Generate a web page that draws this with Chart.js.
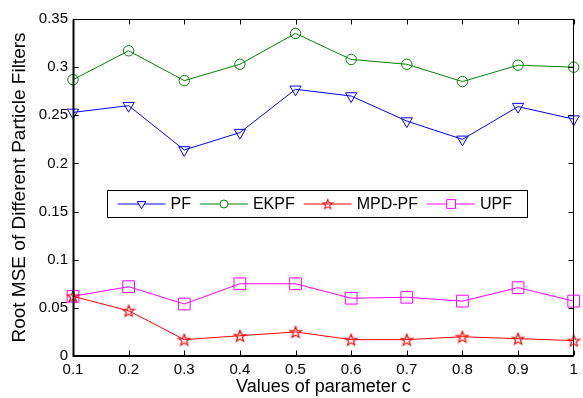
<!DOCTYPE html>
<html lang=en>
<head>
<meta charset="UTF-8" />
<title>Root MSE of Different Particle Filters</title>
<script src="https://cdn.jsdelivr.net/npm/chart.js@4.4.0/dist/chart.umd.min.js"></script>
<style>
    html, body { margin: 0; padding: 0; background: white; }
    #wrap { width: 583px; height: 398px; }
</style>
</head>
<body>
<div id="wrap"><canvas id="myChart"></canvas></div>
<script>
// data
var cValues = [0.1, 0.2, 0.3, 0.4, 0.5, 0.6, 0.7, 0.8, 0.9, 1];
var pf    = [0.253, 0.260, 0.214, 0.232, 0.277, 0.270, 0.244, 0.225, 0.259, 0.246];
var ekpf  = [0.287, 0.317, 0.286, 0.303, 0.335, 0.308, 0.303, 0.285, 0.302, 0.300];
var mpdpf = [0.062, 0.047, 0.017, 0.021, 0.025, 0.017, 0.017, 0.020, 0.018, 0.016];
var upf   = [0.062, 0.072, 0.054, 0.075, 0.075, 0.060, 0.061, 0.057, 0.071, 0.057];
var xTicks = [0.1, 0.2, 0.3, 0.4, 0.5, 0.6, 0.7, 0.8, 0.9, 1];
var yTicks = [0, 0.05, 0.1, 0.15, 0.2, 0.25, 0.3, 0.35];

var FONT = "'Liberation Sans', Arial, sans-serif";

// hollow pentagram, like matlab 'p' marker
function starMarker(color, size) {
    var c = document.createElement('canvas');
    c.width = c.height = size;
    var g = c.getContext('2d');
    var cx = size / 2, cy = size / 2 + 0.6, ro = size / 2 - 1, ri = ro * 0.42;
    g.beginPath();
    for (var i = 0; i < 10; i++) {
        var r = i % 2 ? ri : ro;
        var a = -Math.PI / 2 + i * Math.PI / 5;
        g.lineTo(cx + r * Math.cos(a), cy + r * Math.sin(a));
    }
    g.closePath();
    g.strokeStyle = color;
    g.lineWidth = 1.2;
    g.stroke();
    return c;
}

function pts(ys) {
    return cValues.map(function (x, i) { return { x: x, y: ys[i] }; });
}

// matlab style labels: 0.3 not 0.30, 1 not 1.0
function fmt(v) {
    return String(Number(v.toFixed(3)));
}

function series(label, ys, color, style, radius, rotation) {
    return {
        label: label,
        data: pts(ys),
        borderColor: color,
        backgroundColor: 'rgba(0,0,0,0)',
        borderWidth: 1,
        pointStyle: style,
        pointRadius: radius,
        pointRotation: rotation || 0,
        pointBorderColor: color,
        pointBackgroundColor: 'rgba(0,0,0,0)',
        pointBorderWidth: 1,
        tension: 0,
        clip: false
    };
}

var datasets = [
    series('PF', pf, '#0000ff', 'triangle', 6.5, 180),
    series('EKPF', ekpf, '#008000', 'circle', 5.2),
    series('MPD-PF', mpdpf, '#ff0000', starMarker('#ff0000', 14), 6),
    series('UPF', upf, '#ff00ff', 'rect', 8.3)
];
var legendSizes = [4.8, 4, 0, 6.2];

// box, inward ticks and the legend box
var framePlugin = {
    id: 'frame',
    afterDatasetsDraw: function (chart) {
        var ctx = chart.ctx, a = chart.chartArea;
        var xs = chart.scales.x, ys = chart.scales.y;
        var L = Math.round(a.left) + 0.5, R = Math.round(a.right) - 0.5;
        var T = Math.round(a.top) + 0.5, B = Math.round(a.bottom) - 0.5;
        ctx.save();
        ctx.strokeStyle = '#000';
        ctx.lineWidth = 1;
        ctx.strokeRect(L, T, R - L, B - T);
        ctx.lineWidth = 2;
        ctx.beginPath();
        ctx.moveTo(L, T); ctx.lineTo(L, B + 0.5); ctx.lineTo(R, B + 0.5);
        ctx.stroke();
        ctx.lineWidth = 1;
        ctx.beginPath();
        xTicks.forEach(function (v) {
            var px = Math.round(xs.getPixelForValue(v)) + 0.5;
            ctx.moveTo(px, B); ctx.lineTo(px, B - 5);
            ctx.moveTo(px, T); ctx.lineTo(px, T + 5);
        });
        yTicks.forEach(function (v) {
            var py = Math.round(ys.getPixelForValue(v)) + 0.5;
            ctx.moveTo(L, py); ctx.lineTo(L + 5, py);
            ctx.moveTo(R, py); ctx.lineTo(R - 5, py);
        });
        ctx.stroke();

        // legend
        var bx = Math.round(a.left) + 34.5, by = Math.round(a.top) + 171.5;
        ctx.fillStyle = '#fff';
        ctx.fillRect(bx, by, 420, 27);
        ctx.strokeRect(bx, by, 420, 27);
        ctx.font = '16px ' + FONT;
        ctx.textBaseline = 'middle';
        var x = bx + 10, my = by + 13.5;
        chart.data.datasets.forEach(function (ds, i) {
            ctx.strokeStyle = ds.borderColor;
            ctx.lineWidth = 1;
            ctx.beginPath();
            ctx.moveTo(x, my); ctx.lineTo(x + 48, my);
            ctx.stroke();
            if (typeof ds.pointStyle === 'string') {
                ctx.fillStyle = '#fff';
                Chart.helpers.drawPoint(ctx, {
                    pointStyle: ds.pointStyle, rotation: ds.pointRotation,
                    radius: legendSizes[i], borderWidth: 1
                }, x + 24, my);
            } else {
                ctx.drawImage(ds.pointStyle, x + 24 - 6, my - 6, 12, 12);
            }
            ctx.fillStyle = '#000';
            ctx.fillText(ds.label, x + 53, my + 1);
            x += 53 + ctx.measureText(ds.label).width + 9;
        });
        ctx.restore();
    }
};

var chart = new Chart(document.getElementById('myChart'), {
    type: 'line',
    data: { datasets: datasets },
    options: {
        responsive: true,
        maintainAspectRatio: false,
        animation: false,
        events: [],
        layout: { padding: { left: 0, right: 3, top: 19, bottom: 0 } },
        plugins: { legend: { display: false }, tooltip: { enabled: false } },
        scales: {
            x: {
                type: 'linear', min: 0.1, max: 1,
                afterBuildTicks: function (s) { s.ticks = xTicks.map(function (v) { return { value: v }; }); },
                afterFit: function (s) { s.height = 42; s.paddingLeft = 0; s.paddingRight = 0; },
                grid: { display: false, drawTicks: false },
                border: { display: false },
                ticks: { color: '#000', font: { family: FONT, size: 15 }, padding: 5, maxRotation: 0,
                         autoSkip: false, callback: fmt },
                title: { display: true, text: 'Values of parameter c', color: '#000',
                         font: { family: FONT, size: 18 }, padding: { top: 0, bottom: 0 } }
            },
            y: {
                min: 0, max: 0.35,
                afterBuildTicks: function (s) { s.ticks = yTicks.map(function (v) { return { value: v }; }); },
                afterFit: function (s) { s.width = 73; },
                grid: { display: false, drawTicks: false },
                border: { display: false },
                ticks: { color: '#000', font: { family: FONT, size: 15 }, padding: 5, callback: fmt },
                title: { display: true, text: 'Root MSE of Different Particle Filters', color: '#000',
                         font: { family: FONT, size: 19 }, padding: { top: 8, bottom: 0 } }
            }
        }
    },
    plugins: [framePlugin]
});
</script>
</body>
</html>
